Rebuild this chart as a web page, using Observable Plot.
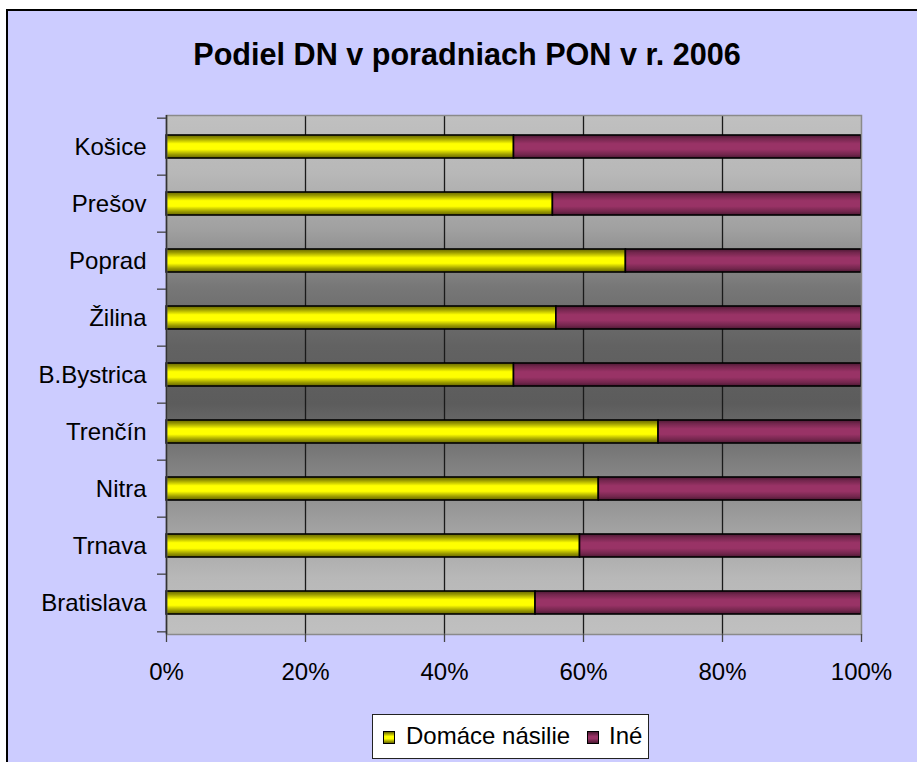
<!DOCTYPE html>
<html>
<head>
<meta charset="utf-8">
<script src="https://cdn.jsdelivr.net/npm/d3@7"></script>
<script src="https://cdn.jsdelivr.net/npm/@observablehq/plot@0.6"></script>
<style>
  html, body { margin: 0; padding: 0; background: #ffffff; overflow: hidden; }
  body { width: 917px; height: 762px; position: relative; font-family: "Liberation Sans", Arial, sans-serif; }
  #frame { position: absolute; left: 6px; top: 9px; width: 1000px; height: 1000px; border: 2px solid #000; background: #ccccff; }
  #title { position: absolute; left: 0; top: 39px; width: 934px; text-align: center; font-size: 30.6px; line-height: 30px; font-weight: bold; color: #000; white-space: nowrap; }
  #chart { position: absolute; left: 0; top: 0; }
  #legend { position: absolute; left: 372px; top: 714px; width: 277px; height: 45px; background: #fff; border: 1px solid #222; box-sizing: border-box; }
  .sw { position: absolute; width: 10px; height: 11px; border: 1px solid #000; top: 16px; }
  .lt { position: absolute; top: 6px; font-size: 24px; line-height: 30px; color: #000; white-space: nowrap; }
</style>
</head>
<body>
<div id="frame"></div>
<div id="title"></div>
<div id="chart"></div>
<div id="legend"></div>
<script>
// ---- data ----
const titleText = "Podiel DN v poradniach PON v r. 2006";
const cities = ["Košice", "Prešov", "Poprad", "Žilina", "B.Bystrica", "Trenčín", "Nitra", "Trnava", "Bratislava"];
const domestic = [0.500, 0.556, 0.661, 0.561, 0.500, 0.708, 0.622, 0.595, 0.531];
const other    = [0.500, 0.444, 0.339, 0.439, 0.500, 0.292, 0.378, 0.405, 0.469];
const seriesNames = ["Domáce násilie", "Iné"];
const xTicks = [0, 0.2, 0.4, 0.6, 0.8, 1];
const gridTicks = [0.2, 0.4, 0.6, 0.8];

// ---- layout ----
const W = 917, H = 762;
const mTop = 115, mBottom = 128, mLeft = 166, mRight = 56;
const padInner = 0.6, padOuter = 0.3;
const step = (H - mTop - mBottom) / (cities.length - padInner + 2 * padOuter);

const table = [];
cities.forEach((c, i) => {
  table.push({city: c, series: seriesNames[0], value: domestic[i]});
  table.push({city: c, series: seriesNames[1], value: other[i]});
});

document.getElementById("title").textContent = titleText;

const font = "'Liberation Sans', Arial, sans-serif";

const svg = Plot.plot({
  width: W,
  height: H,
  marginTop: mTop,
  marginBottom: mBottom,
  marginLeft: mLeft,
  marginRight: mRight,
  style: {background: "transparent", fontFamily: font, fontSize: "24px", color: "#000", overflow: "visible"},
  x: {domain: [0, 1], axis: null, label: null},
  y: {domain: cities, paddingInner: padInner, paddingOuter: padOuter, axis: null, label: null},
  color: {domain: seriesNames, range: ["url(#gradY)", "url(#gradM)"]},
  marks: [
    Plot.frame({fill: "url(#gradBg)", stroke: "none"}),
    Plot.ruleX(gridTicks, {stroke: "#1a1a1a", strokeWidth: 1.3}),
    Plot.barX(table, Plot.stackX({x: "value", y: "city", fill: "series", order: seriesNames, stroke: "#000", strokeWidth: 1.6})),
    Plot.frame({stroke: "#8a8a8a", strokeWidth: 1.5}),
    Plot.ruleX([0], {stroke: "#333", strokeWidth: 1.6}),
    Plot.axisX({ticks: xTicks, tickFormat: d3.format(".0%"), tickSize: 8, tickPadding: 20, fontSize: 24, stroke: "#444", strokeWidth: 1.3, anchor: "bottom", label: null}),
    Plot.axisY({tickSize: 0, tickPadding: 20, fontSize: 24, anchor: "left", label: null}),
    Plot.axisY({tickSize: 9, tickFormat: () => "", dy: -step / 2, stroke: "#444", strokeWidth: 1.3, anchor: "left", label: null}),
    Plot.axisY({ticks: cities.slice(-1), tickSize: 9, tickFormat: () => "", dy: step / 2, stroke: "#444", strokeWidth: 1.3, anchor: "left", label: null})
  ]
});

// gradients
const defs = d3.select(svg).insert("defs", ":first-child");
function grad(id, stops) {
  const g = defs.append("linearGradient").attr("id", id).attr("x1", 0).attr("y1", 0).attr("x2", 0).attr("y2", 1);
  stops.forEach(([o, c]) => g.append("stop").attr("offset", o).attr("stop-color", c));
}
grad("gradBg", [[0, "#c0c0c0"], [0.11, "#b8b8b8"], [0.22, "#a0a0a0"], [0.33, "#777777"], [0.445, "#626262"], [0.555, "#5c5c5c"], [0.667, "#7e7e7e"], [0.777, "#9d9d9d"], [0.89, "#b8b8b8"], [1, "#c0c0c0"]]);
grad("gradY", [[0, "#666600"], [0.15, "#9a9a00"], [0.38, "#ffff00"], [0.62, "#ffff00"], [0.85, "#9a9a00"], [1, "#666600"]]);
grad("gradM", [[0, "#4c1933"], [0.15, "#73264d"], [0.38, "#993366"], [0.62, "#993366"], [0.85, "#73264d"], [1, "#4c1933"]]);

document.getElementById("chart").appendChild(svg);

// legend
const legend = document.getElementById("legend");
const swatchBg = [
  "linear-gradient(#666600, #ffff00 40%, #ffff00 60%, #666600)",
  "linear-gradient(#4c1933, #993366 40%, #993366 60%, #4c1933)"
];
const swX = [10, 214];
const txX = [33, 236];
seriesNames.forEach((s, i) => {
  const sw = document.createElement("div");
  sw.className = "sw";
  sw.style.left = swX[i] + "px";
  sw.style.background = swatchBg[i];
  legend.appendChild(sw);
  const t = document.createElement("div");
  t.className = "lt";
  t.style.left = txX[i] + "px";
  t.textContent = s;
  legend.appendChild(t);
});
</script>
</body>
</html>
